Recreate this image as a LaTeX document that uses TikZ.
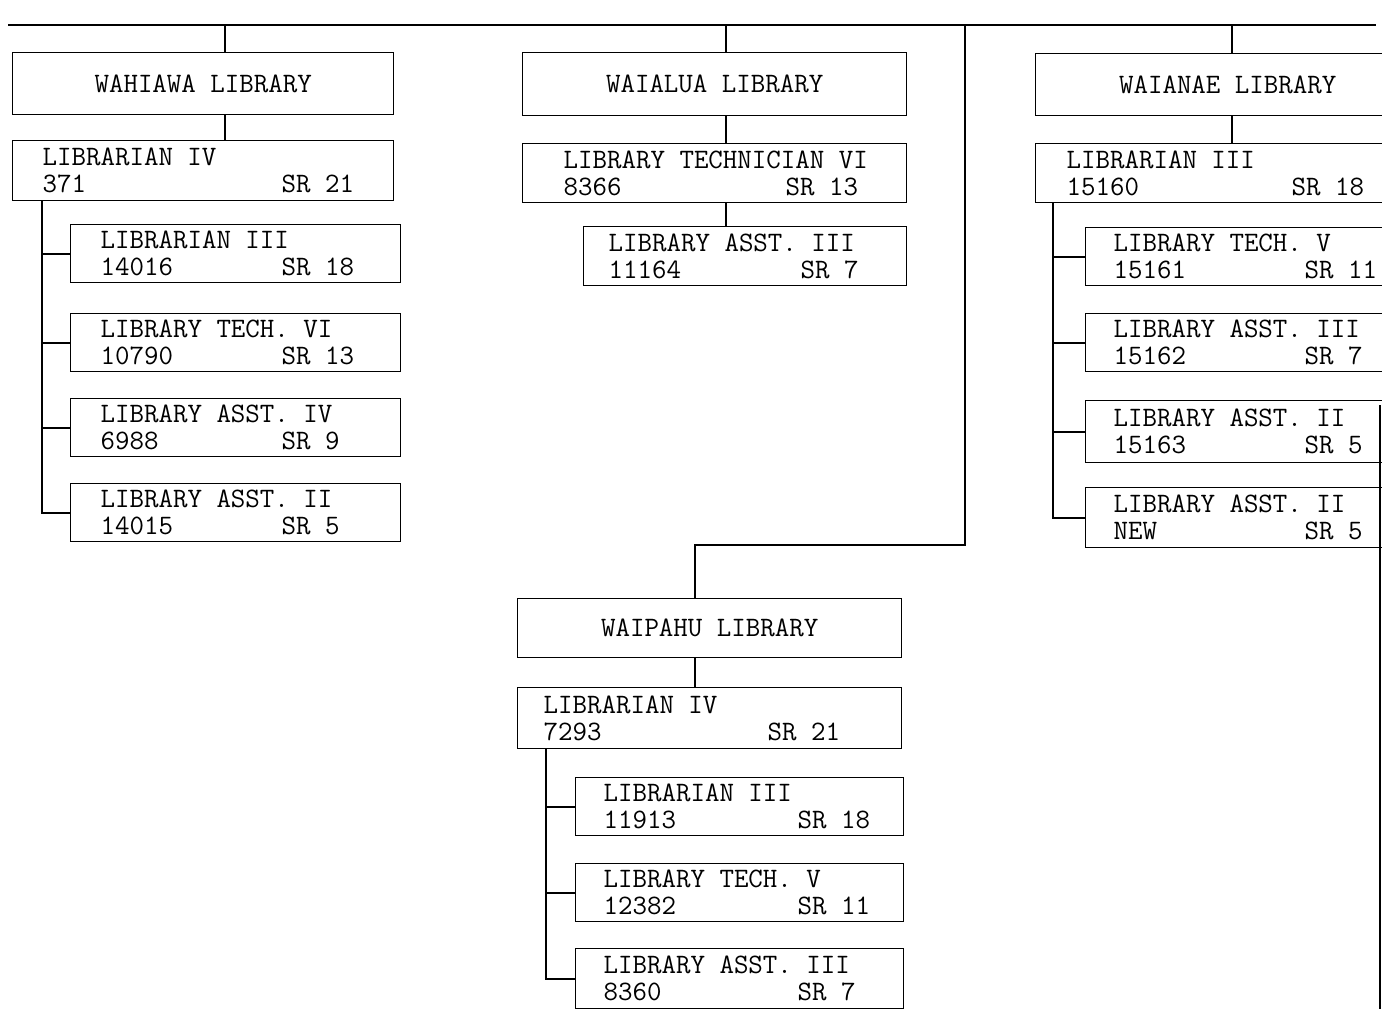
\documentclass[tikz,border=0pt]{standalone}

% two-line position entry: block width, title, number, tab, range
\newcommand{\pos}[5]{\makebox[#1][l]{#2}\\\makebox[#1][l]{\makebox[#4][l]{#3}#5}}

\begin{document}
\begin{tikzpicture}[
  x=0.025cm, y=-0.025cm,
  lib/.style={draw, line width=0.9pt, anchor=north west, inner sep=0pt,
    minimum width=9.6cm, minimum height=1.55cm,
    font=\ttfamily\fontsize{20}{19}\selectfont},
  job/.style={lib, align=left, minimum height=1.5cm},
  sub/.style={job, minimum width=8.2cm, minimum height=1.45cm},
  link/.style={line width=1.6pt},
  rule/.style={line width=0.9pt}
]
\clip (0,0) rectangle (1382,1009);

% Wahiawa
\node[lib, minimum width=9.525cm] (wahiawa) at (12,52) {WAHIAWA LIBRARY};
\node[job, minimum width=9.525cm] (wlib4) at (12,140) {\pos{8.025cm}{LIBRARIAN IV}{371}{5.975cm}{SR 21}};
\node[sub, minimum width=8.25cm] (w1) at (70,224) {\pos{6.75cm}{LIBRARIAN III}{14016}{4.525cm}{SR 18}};
\node[sub, minimum width=8.25cm] (w2) at (70,313) {\pos{6.75cm}{LIBRARY TECH. VI}{10790}{4.525cm}{SR 13}};
\node[sub, minimum width=8.25cm] (w3) at (70,398) {\pos{6.75cm}{LIBRARY ASST. IV}{6988}{4.525cm}{SR 9}};
\node[sub, minimum width=8.25cm] (w4) at (70,483) {\pos{6.75cm}{LIBRARY ASST. II}{14015}{4.525cm}{SR 5}};

% Waialua
\node[lib, minimum height=1.575cm] (waialua) at (522,52) {WAIALUA LIBRARY};
\node[job, minimum height=1.475cm] (ltech) at (522,143) {\pos{7.55cm}{LIBRARY TECHNICIAN VI}{8366}{5.55cm}{SR 13}};
\node[sub, minimum width=8.075cm, minimum height=1.475cm] (lasst) at (583,226) {\pos{6.825cm}{LIBRARY ASST. III}{11164}{4.8cm}{SR 7}};

% Waipahu
\node[lib, minimum height=1.475cm] (waipahu) at (517,598) {WAIPAHU LIBRARY};
\node[job, minimum height=1.525cm] (plib4) at (517,687) {\pos{8.3cm}{LIBRARIAN IV}{7293}{5.6cm}{SR 21}};
\node[sub] (p1) at (575,777) {\pos{6.8cm}{LIBRARIAN III}{11913}{4.85cm}{SR 18}};
\node[sub] (p2) at (575,863) {\pos{6.8cm}{LIBRARY TECH. V}{12382}{4.85cm}{SR 11}};
\node[sub, minimum height=1.5cm] (p3) at (575,948) {\pos{6.8cm}{LIBRARY ASST. III}{8360}{4.85cm}{SR 7}};

% Waianae
\node[lib] (waianae) at (1035,53) {WAIANAE LIBRARY};
\node[job, minimum height=1.475cm] (nlib3) at (1035,143) {\pos{8.05cm}{LIBRARIAN III}{15160}{5.625cm}{SR 18}};
\node[sub] (n1) at (1085,227) {\pos{6.8cm}{LIBRARY TECH. V}{15161}{4.775cm}{SR 11}};
\node[sub] (n2) at (1085,313) {\pos{6.8cm}{LIBRARY ASST. III}{15162}{4.775cm}{SR 7}};
\node[sub, minimum height=1.55cm] (n3) at (1085,400) {\pos{6.8cm}{LIBRARY ASST. II}{15163}{4.775cm}{SR 5}};
\node[sub, minimum height=1.5cm] (n4) at (1085,487) {\pos{6.8cm}{LIBRARY ASST. II}{NEW}{4.775cm}{SR 5}};

% top line and drops
\coordinate (topL) at (8,25);
\coordinate (topR) at (1376,25);
\coordinate (wa) at (225,25);
\coordinate (wl) at (726,25);
\coordinate (wn) at (1232,25);
\coordinate (wp) at (965,25);
\coordinate (bend) at (695,545);
\draw[rule] (topL) -- (topR);
\foreach \d/\n in {wa/wahiawa, wl/waialua, wn/waianae}
  \draw[link] (\d) -- (\d |- \n.north);
\draw[link] (wa |- wahiawa.south) -- (wa |- wlib4.north);
\draw[link] (wl |- waialua.south) -- (wl |- ltech.north);
\draw[link] (wl |- ltech.south) -- (wl |- lasst.north);
\draw[link] (wn |- waianae.south) -- (wn |- nlib3.north);
\draw[link] (wp) |- (bend) -- (bend |- waipahu.north);
\draw[link] (bend |- waipahu.south) -- (bend |- plib4.north);

% subordinate trunks
\coordinate (wtr) at (42,0);
\coordinate (ptr) at (546,0);
\coordinate (ntr) at (1053,0);
\draw[link] (wtr |- wlib4.south) -- (wtr |- w4.west) -- (w4.west);
\foreach \c in {w1,w2,w3}
  \draw[link] (wtr |- \c.west) -- (\c.west);
\draw[link] (ptr |- plib4.south) -- (ptr |- p3.west) -- (p3.west);
\foreach \c in {p1,p2}
  \draw[link] (ptr |- \c.west) -- (\c.west);
\draw[link] (ntr |- nlib3.south) -- (ntr |- n4.west) -- (n4.west);
\foreach \c in {n1,n2,n3}
  \draw[link] (ntr |- \c.west) -- (\c.west);

% right edge
\coordinate (edgeT) at (1380,405);
\coordinate (edgeB) at (1380,1009);
\draw[link] (edgeT) -- (edgeB);
\end{tikzpicture}
\end{document}
